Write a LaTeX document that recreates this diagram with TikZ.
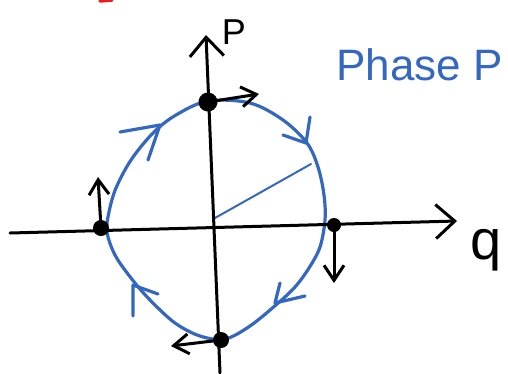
\documentclass[tikz,border=0pt]{standalone}
\usepackage{fontspec}
\setmainfont{Liberation Sans}
\usetikzlibrary{arrows.meta}
\definecolor{penblue}{RGB}{52,104,192}
\definecolor{penred}{RGB}{235,30,30}
\tikzset{
  ink/.style={line width=3pt, line cap=round, line join=round, black},
  blueink/.style={line width=3.2pt, line cap=round, line join=round, penblue},
  dotnode/.style={circle, fill=black, inner sep=0pt, minimum size=16pt},
  axistip/.style={-{Straight Barb[length=19pt,width=34pt,line width=3pt]}},
  smalltip/.style={-{Straight Barb[length=15pt,width=20pt,line width=3pt]}},
  lbl/.style={inner sep=0pt, anchor=center}
}
\begin{document}
\begin{tikzpicture}[x=1pt,y=-1pt]
\useasboundingbox (0,0) rectangle (508,373);
\clip (0,0) rectangle (508,373);

% red mark
\draw[line width=3.5pt, penred, line cap=round] (100,1) -- (112,0);

% circle (orbit)
\draw[blueink] plot[smooth cycle, tension=0.55] coordinates {
 (208,101) (250,103) (283,120) (307,143) (318,167) (324,195) (325,220)
 (320,247) (309,268) (295,287) (277,304) (250,326) (225,339) (200,336)
 (175,323) (150,300) (131,278) (115,255) (107,232) (109,212) (116,188)
 (131,160) (153,133) (176,115)};

% radius line
\coordinate (center) at (215,218);
\coordinate (rim) at (311,164);
\draw[penblue, line width=2pt, line cap=round] (center) -- (rim);

% axes
\coordinate (qstart) at (10,233);
\coordinate (qend) at (457,221);
\coordinate (pstart) at (220,373);
\coordinate (pend) at (206,35);
\draw[ink, axistip] (qstart) -- (qend);
\draw[ink, axistip] (pstart) -- (pend);

% dots
\node[dotnode, minimum width=16pt, minimum height=19pt, rotate=15] (top) at (208,102) {};
\node[dotnode] (left) at (101,228) {};
\node[dotnode, minimum size=14pt] (right) at (334,225) {};
\node[dotnode] (bottom) at (221,340) {};

% velocity arrows
\coordinate (topv) at (259,94);
\coordinate (leftv) at (98,177);
\coordinate (rightv) at (334,283);
\coordinate (bottomv) at (171,346);
\draw[ink, smalltip] (top.center) -- (topv);
\draw[ink, smalltip] (left.center) -- (leftv);
\draw[ink, smalltip] (right.center) -- (rightv);
\draw[ink, smalltip] (bottom.center) -- (bottomv);

% blue arrowheads on the orbit
\draw[blueink] (120,132) -- (160,125) -- (148,160);
\draw[blueink] (283,135) -- (306,143) -- (310,117);
\draw[blueink] (305,296) -- (275,303) -- (280,283);
\draw[blueink] (158,294) -- (133,285) -- (133,316);

% labels
\node[lbl, font=\fontsize{36}{36}\selectfont] (plabel) at (234,32) {P};
\node[lbl, font=\fontsize{56}{56}\selectfont] (qlabel) at (486,250) {q};
\node[lbl, anchor=base west, text=penblue, font=\fontsize{44}{44}\selectfont] (title) at (336,80) {Phase P};
\end{tikzpicture}
\end{document}
